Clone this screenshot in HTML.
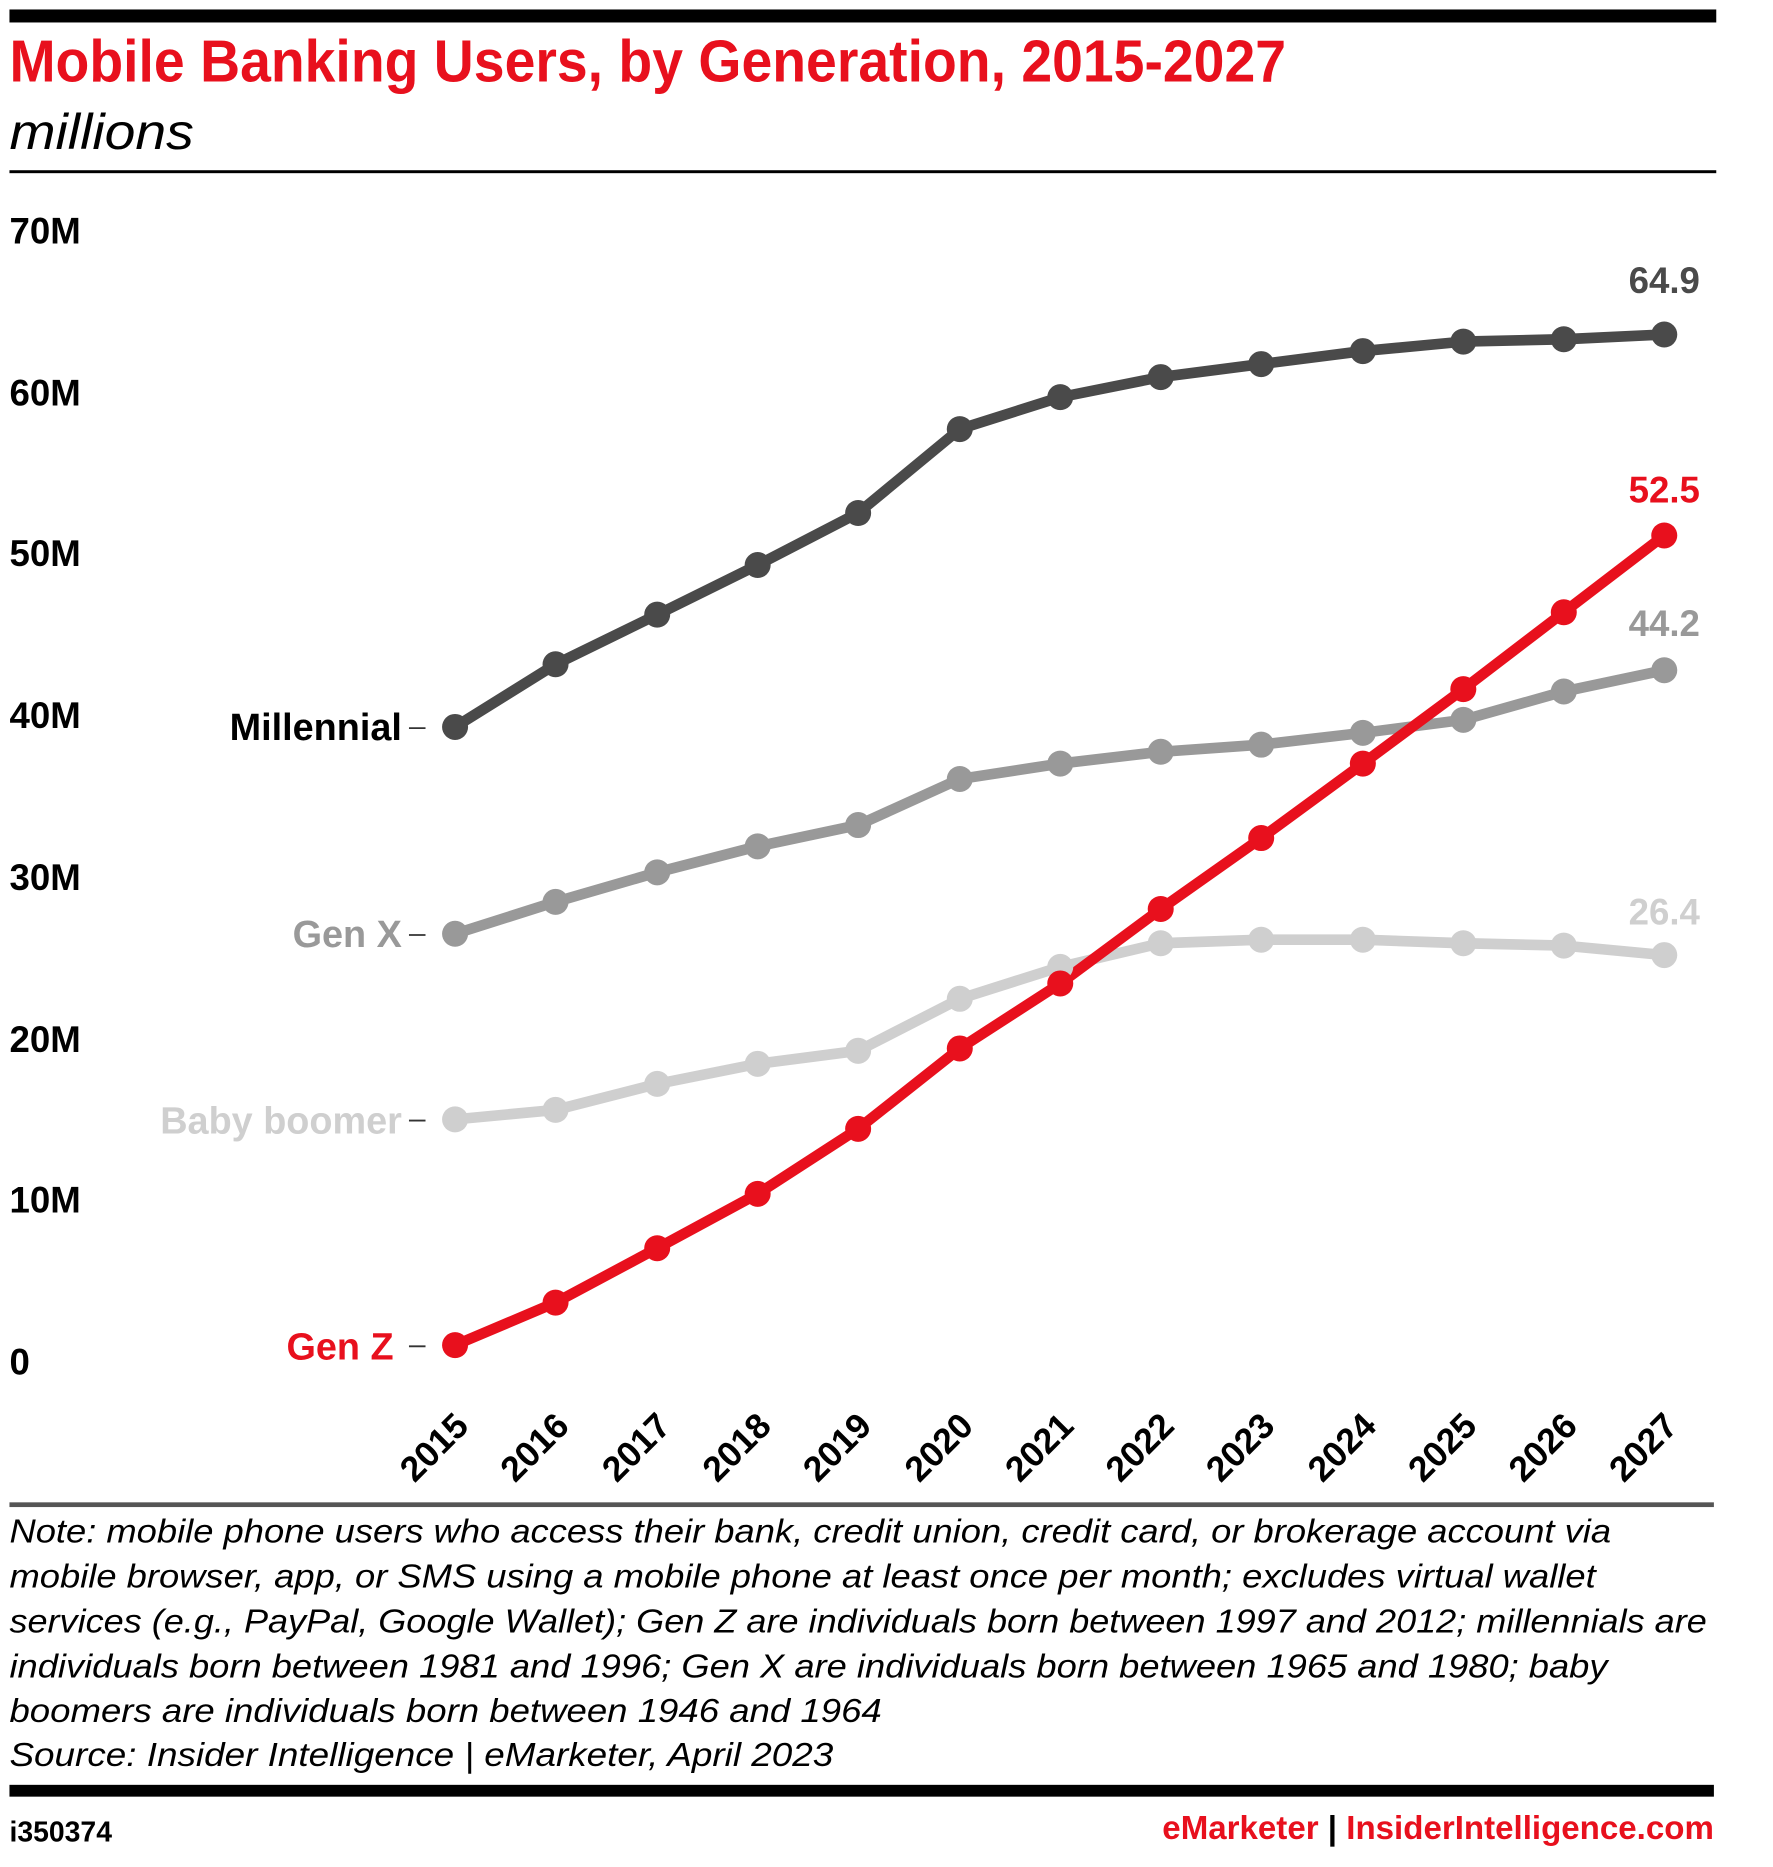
<!DOCTYPE html>
<html><head><meta charset="utf-8"><style>html,body{margin:0;padding:0;background:#fff}svg{display:block}</style></head>
<body>
<svg width="1773" height="1867" viewBox="0 0 1500 1579.5" xmlns="http://www.w3.org/2000/svg" font-family="Liberation Sans, sans-serif">
<rect x="8" y="8" width="1444" height="11" fill="#000"/>
<text x="8" y="69" font-size="50" font-weight="bold" fill="#e8101d" textLength="1080" lengthAdjust="spacingAndGlyphs">Mobile Banking Users, by Generation, 2015-2027</text>
<text x="8" y="126" font-size="42" font-style="italic" fill="#000" textLength="156" lengthAdjust="spacingAndGlyphs">millions</text>
<rect x="8" y="144" width="1444" height="2.5" fill="#000"/>
<g font-size="31" font-weight="bold" fill="#000">
<text x="8" y="206">70M</text><text x="8" y="343">60M</text><text x="8" y="479">50M</text><text x="8" y="616">40M</text>
<text x="8" y="753">30M</text><text x="8" y="890">20M</text><text x="8" y="1026">10M</text><text x="8" y="1163">0</text>
</g>
<g font-size="32" font-weight="bold" text-anchor="end">
<text x="340" y="626" fill="#000">Millennial</text>
<text x="340" y="801" fill="#999">Gen X</text>
<text x="340" y="959" fill="#cfcfcf">Baby boomer</text>
<text x="333" y="1150" fill="#e8101d">Gen Z</text>
</g>
<g stroke="#333" stroke-width="1.5">
<line x1="346" y1="616" x2="360" y2="616"/><line x1="346" y1="791" x2="360" y2="791"/><line x1="346" y1="948" x2="360" y2="948"/><line x1="346" y1="1139" x2="360" y2="1139"/>
</g>
<g fill="none" stroke-width="9" stroke-linejoin="round">
<polyline stroke="#cfcfcf" points="385,947 470,939 556,917 641,900 726,889 812,845 897,818 982,798 1067,795 1153,795 1238,798 1323,800 1408,808"/>
<polyline stroke="#999" points="385,790 470,763 556,738 641,716 726,698 812,659 897,646 982,636 1067,630 1153,620 1238,609 1323,585 1408,567"/>
<polyline stroke="#4a4a4a" points="385,615 470,562 556,520 641,478 726,434 812,363 897,336 982,319 1067,308 1153,297 1238,289 1323,287 1408,283"/>
<polyline stroke="#e8101d" points="385,1138 470,1102 556,1056 641,1010 726,955 812,887 897,832 982,769 1067,709 1153,646 1238,583 1323,518 1408,453"/>
</g>
<g fill="#cfcfcf"><circle cx="385" cy="947" r="11"/><circle cx="470" cy="939" r="11"/><circle cx="556" cy="917" r="11"/><circle cx="641" cy="900" r="11"/><circle cx="726" cy="889" r="11"/><circle cx="812" cy="845" r="11"/><circle cx="897" cy="818" r="11"/><circle cx="982" cy="798" r="11"/><circle cx="1067" cy="795" r="11"/><circle cx="1153" cy="795" r="11"/><circle cx="1238" cy="798" r="11"/><circle cx="1323" cy="800" r="11"/><circle cx="1408" cy="808" r="11"/></g>
<g fill="#999"><circle cx="385" cy="790" r="11"/><circle cx="470" cy="763" r="11"/><circle cx="556" cy="738" r="11"/><circle cx="641" cy="716" r="11"/><circle cx="726" cy="698" r="11"/><circle cx="812" cy="659" r="11"/><circle cx="897" cy="646" r="11"/><circle cx="982" cy="636" r="11"/><circle cx="1067" cy="630" r="11"/><circle cx="1153" cy="620" r="11"/><circle cx="1238" cy="609" r="11"/><circle cx="1323" cy="585" r="11"/><circle cx="1408" cy="567" r="11"/></g>
<g fill="#4a4a4a"><circle cx="385" cy="615" r="11"/><circle cx="470" cy="562" r="11"/><circle cx="556" cy="520" r="11"/><circle cx="641" cy="478" r="11"/><circle cx="726" cy="434" r="11"/><circle cx="812" cy="363" r="11"/><circle cx="897" cy="336" r="11"/><circle cx="982" cy="319" r="11"/><circle cx="1067" cy="308" r="11"/><circle cx="1153" cy="297" r="11"/><circle cx="1238" cy="289" r="11"/><circle cx="1323" cy="287" r="11"/><circle cx="1408" cy="283" r="11"/></g>
<g fill="#e8101d"><circle cx="385" cy="1138" r="11"/><circle cx="470" cy="1102" r="11"/><circle cx="556" cy="1056" r="11"/><circle cx="641" cy="1010" r="11"/><circle cx="726" cy="955" r="11"/><circle cx="812" cy="887" r="11"/><circle cx="897" cy="832" r="11"/><circle cx="982" cy="769" r="11"/><circle cx="1067" cy="709" r="11"/><circle cx="1153" cy="646" r="11"/><circle cx="1238" cy="583" r="11"/><circle cx="1323" cy="518" r="11"/><circle cx="1408" cy="453" r="11"/></g>
<g font-size="31" font-weight="bold" text-anchor="middle">
<text x="1408" y="248" fill="#4a4a4a">64.9</text>
<text x="1408" y="425" fill="#e8101d">52.5</text>
<text x="1408" y="538" fill="#999">44.2</text>
<text x="1408" y="782" fill="#cfcfcf">26.4</text>
</g>
<g font-size="30" font-weight="bold" fill="#000" text-anchor="end">
<text transform="translate(398,1208) rotate(-45)">2015</text>
<text transform="translate(483,1208) rotate(-45)">2016</text>
<text transform="translate(569,1208) rotate(-45)">2017</text>
<text transform="translate(654,1208) rotate(-45)">2018</text>
<text transform="translate(739,1208) rotate(-45)">2019</text>
<text transform="translate(825,1208) rotate(-45)">2020</text>
<text transform="translate(910,1208) rotate(-45)">2021</text>
<text transform="translate(995,1208) rotate(-45)">2022</text>
<text transform="translate(1080,1208) rotate(-45)">2023</text>
<text transform="translate(1166,1208) rotate(-45)">2024</text>
<text transform="translate(1251,1208) rotate(-45)">2025</text>
<text transform="translate(1336,1208) rotate(-45)">2026</text>
<text transform="translate(1421,1208) rotate(-45)">2027</text>
</g>
<rect x="8" y="1271" width="1442" height="4" fill="#555"/>
<g font-size="28" font-style="italic" fill="#000" lengthAdjust="spacingAndGlyphs">
<text x="8" y="1305" textLength="1355" lengthAdjust="spacingAndGlyphs">Note: mobile phone users who access their bank, credit union, credit card, or brokerage account via</text>
<text x="8" y="1343" textLength="1342" lengthAdjust="spacingAndGlyphs">mobile browser, app, or SMS using a mobile phone at least once per month; excludes virtual wallet</text>
<text x="8" y="1381" textLength="1436" lengthAdjust="spacingAndGlyphs">services (e.g., PayPal, Google Wallet); Gen Z are individuals born between 1997 and 2012; millennials are</text>
<text x="8" y="1419" textLength="1352" lengthAdjust="spacingAndGlyphs">individuals born between 1981 and 1996; Gen X are individuals born between 1965 and 1980; baby</text>
<text x="8" y="1457" textLength="738" lengthAdjust="spacingAndGlyphs">boomers are individuals born between 1946 and 1964</text>
<text x="8" y="1494" textLength="697" lengthAdjust="spacingAndGlyphs">Source: Insider Intelligence | eMarketer, April 2023</text>
</g>
<rect x="8" y="1510" width="1442" height="10" fill="#000"/>
<text x="8" y="1558" font-size="24" font-weight="bold" fill="#000">i350374</text>
<text x="1450" y="1556" font-size="28" font-weight="bold" text-anchor="end"><tspan fill="#e8101d">eMarketer</tspan><tspan fill="#000">  |  </tspan><tspan fill="#e8101d">InsiderIntelligence.com</tspan></text>
</svg>
</body></html>
